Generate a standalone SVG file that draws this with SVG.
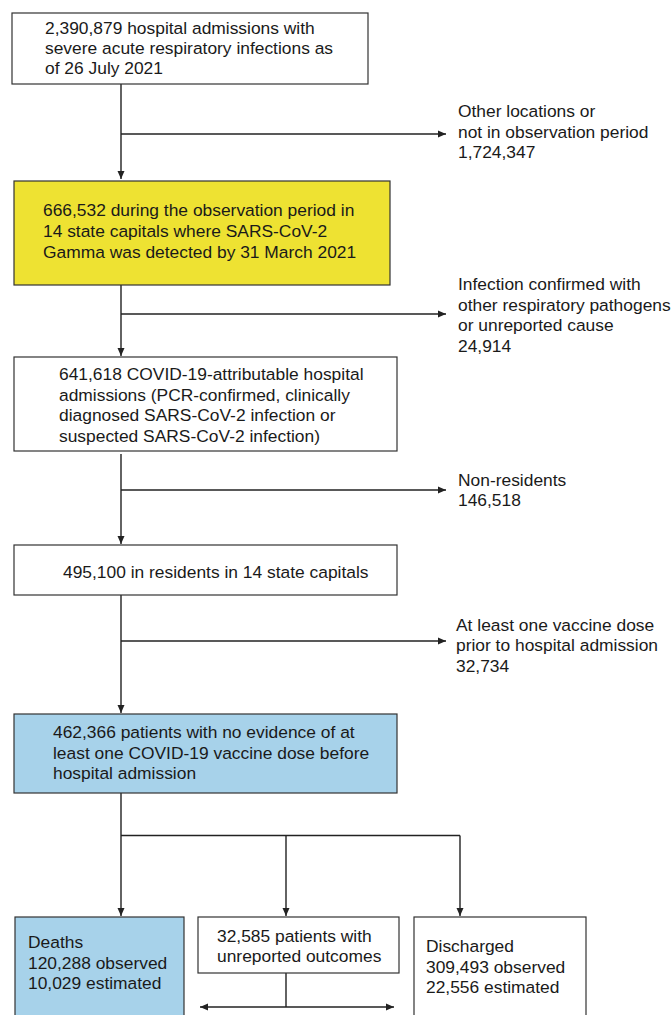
<svg xmlns="http://www.w3.org/2000/svg" width="672" height="1015" viewBox="0 0 672 1015">
<defs>
<marker id="ah" markerUnits="userSpaceOnUse" markerWidth="9" markerHeight="9" refX="8" refY="4" orient="auto-start-reverse">
<path d="M0,0.5 L8,4 L0,7.5 z" fill="#222"/>
</marker>
<style>
.box{stroke:#333;stroke-width:1.2;fill:#fff}
.yellow{fill:#EEE232}
.blue{fill:#A7D2EA}
.t{font-family:"Liberation Sans",Arial,sans-serif;font-size:17.4px;fill:#1a1a1a}
.c{stroke:#222;stroke-width:1.4;fill:none}
.a{marker-end:url(#ah)}
.a2{marker-start:url(#ah);marker-end:url(#ah)}
</style>
</defs>
<g id="connectors">
<path class="c a" d="M121,84 V179"/>
<path class="c a" d="M121,134 H446"/>
<path class="c a" d="M121,285 V356"/>
<path class="c a" d="M121,314 H446"/>
<path class="c a" d="M121,454 V544"/>
<path class="c a" d="M121,490 H446"/>
<path class="c a" d="M121,595 V713"/>
<path class="c a" d="M121,641 H446"/>
<path class="c a" d="M121,793 V916"/>
<path class="c" d="M121,835.5 H460"/>
<path class="c a" d="M286,835.5 V916"/>
<path class="c a" d="M460,835.5 V916"/>
<path class="c" d="M286,973 V1007"/>
<path class="c a2" d="M200,1007 H394"/>
</g>
<g id="n1">
<rect class="box" x="12" y="13" width="356" height="71"/>
<text class="t" x="45" y="34">2,390,879 hospital admissions with</text>
<text class="t" x="45" y="54">severe acute respiratory infections as</text>
<text class="t" x="45" y="73.5">of 26 July 2021</text>
</g>
<g id="l1">
<text class="t" x="458" y="117">Other locations or</text>
<text class="t" x="458" y="138">not in observation period</text>
<text class="t" x="458" y="158">1,724,347</text>
</g>
<g id="n2">
<rect class="box yellow" x="14" y="181" width="376" height="104"/>
<text class="t" x="43" y="216">666,532 during the observation period in</text>
<text class="t" x="43" y="237">14 state capitals where SARS-CoV-2</text>
<text class="t" x="43" y="258">Gamma was detected by 31 March 2021</text>
</g>
<g id="l2">
<text class="t" x="458" y="290">Infection confirmed with</text>
<text class="t" x="458" y="311">other respiratory pathogens</text>
<text class="t" x="458" y="331">or unreported cause</text>
<text class="t" x="458" y="352">24,914</text>
</g>
<g id="n3">
<rect class="box" x="14" y="357" width="383" height="94"/>
<text class="t" x="59" y="380">641,618 COVID-19-attributable hospital</text>
<text class="t" x="59" y="400.5">admissions (PCR-confirmed, clinically</text>
<text class="t" x="59" y="421">diagnosed SARS-CoV-2 infection or</text>
<text class="t" x="59" y="441.5">suspected SARS-CoV-2 infection)</text>
</g>
<g id="l3">
<text class="t" x="458" y="486">Non-residents</text>
<text class="t" x="458" y="506">146,518</text>
</g>
<g id="n4">
<rect class="box" x="14" y="545" width="383" height="50"/>
<text class="t" x="63" y="578">495,100 in residents in 14 state capitals</text>
</g>
<g id="l4">
<text class="t" x="456" y="630.5">At least one vaccine dose</text>
<text class="t" x="456" y="651">prior to hospital admission</text>
<text class="t" x="456" y="671.5">32,734</text>
</g>
<g id="n5">
<rect class="box blue" x="14" y="714" width="383" height="79"/>
<text class="t" x="53" y="738">462,366 patients with no evidence of at</text>
<text class="t" x="53" y="759">least one COVID-19 vaccine dose before</text>
<text class="t" x="53" y="779">hospital admission</text>
</g>
<g id="n6">
<rect class="box blue" x="15" y="917" width="169" height="110"/>
<text class="t" x="28" y="948">Deaths</text>
<text class="t" x="28" y="969">120,288 observed</text>
<text class="t" x="28" y="989">10,029 estimated</text>
</g>
<g id="n7">
<rect class="box" x="198" y="917" width="201" height="56"/>
<text class="t" x="217" y="941.5">32,585 patients with</text>
<text class="t" x="217" y="961.5">unreported outcomes</text>
</g>
<g id="n8">
<rect class="box" x="414" y="917" width="172" height="110"/>
<text class="t" x="426" y="951.5">Discharged</text>
<text class="t" x="426" y="973">309,493 observed</text>
<text class="t" x="426" y="993">22,556 estimated</text>
</g>
</svg>
